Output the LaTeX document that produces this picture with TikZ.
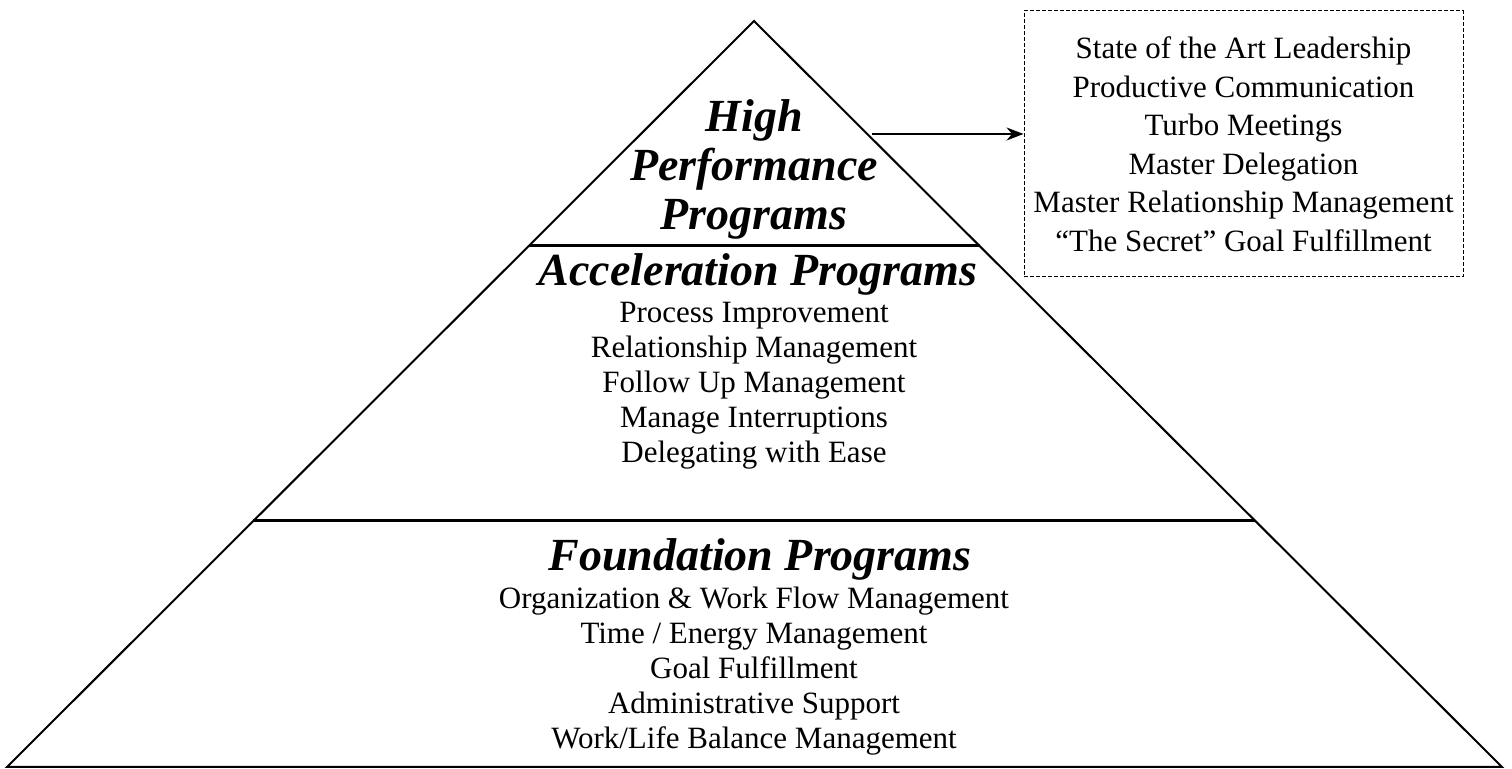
\documentclass[tikz,border=0pt]{standalone}
\usepackage{fontspec}
\setmainfont{Liberation Serif}
\usepackage{tikz}
\usetikzlibrary{arrows.meta,calc}
\tikzstyle{edge} = [line width=1pt, line join=miter]
\tikzstyle{level} = [line width=1.5pt]
\tikzstyle{title} = [font=\fontsize{23}{24.5}\selectfont\bfseries\itshape, align=center, inner sep=0pt]
\tikzstyle{items} = [font=\fontsize{15.5}{17.5}\selectfont, align=center, inner sep=0pt]
\tikzstyle{listbox} = [rectangle, draw=black, dash pattern=on 2pt off 1pt, line width=0.5pt, minimum width=219.5pt, minimum height=133pt, inner sep=0pt, font=\fontsize{15.5}{19.25}\selectfont, align=center]
\tikzstyle{arrow} = [line width=0.7pt, -{Stealth[length=8.5pt,width=6.5pt]}]

\begin{document}
\begin{tikzpicture}[x=0.5pt,y=-0.5pt]
\useasboundingbox (0,0) rectangle (1512,769);
% pyramid
\coordinate (apex) at (754,21);
\coordinate (bl) at (7,767);
\coordinate (br) at (1502,767);
\draw[edge] (bl) -- (apex) -- (br) -- cycle;
\draw[level] ($(apex)!0.3016!(bl)$) -- ($(apex)!0.3016!(br)$);
\draw[level] ($(apex)!0.6702!(bl)$) -- ($(apex)!0.6702!(br)$);
% top level (base = last line)
\node (hp) [title, anchor=base] at (754,230) {High\\Performance\\Programs};
\node (adv) [listbox] at (1243.5,144) {State of the Art Leadership\\
Productive Communication\\
Turbo Meetings\\
Master Delegation\\
Master Relationship Management\\
``The Secret'' Goal Fulfillment};
\coordinate (hpout) at (872,134);
\draw[arrow] (hpout) -- (hpout -| adv.west);
% middle level
\node (acc) [title, anchor=base] at (758,286) {Acceleration Programs};
\node (acclist) [items, anchor=base] at (754,463) {Process Improvement\\
Relationship Management\\
Follow Up Management\\
Manage Interruptions\\
Delegating with Ease};
% bottom level
\node (fnd) [title, anchor=base] at (760,571) {Foundation Programs};
\node (fndlist) [items, anchor=base] at (754,749) {Organization \& Work Flow Management\\
Time / Energy Management\\
Goal Fulfillment\\
Administrative Support\\
Work/Life Balance Management};
\end{tikzpicture}
\end{document}
